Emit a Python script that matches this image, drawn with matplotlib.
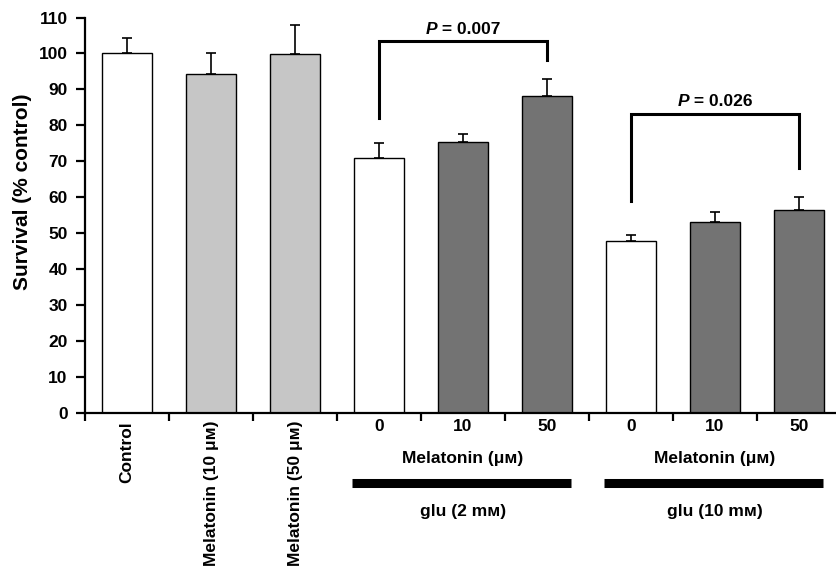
import matplotlib
matplotlib.use("Agg")
import matplotlib.pyplot as plt
import matplotlib.transforms as mtransforms
from matplotlib.offsetbox import TextArea, HPacker, AnnotationBbox

plt.rcParams['font.family'] = ['Liberation Sans', 'DejaVu Sans']
plt.rcParams['font.weight'] = 'bold'

# ---- data ----
values = [100.0, 94.2, 99.9, 70.8, 75.4, 88.1, 47.9, 53.1, 56.3]
errors = [4.2, 5.8, 7.9, 4.3, 2.1, 4.7, 1.7, 2.9, 3.7]
kinds = ['white', 'light', 'light', 'white', 'dark', 'dark', 'white', 'dark', 'dark']
rot_labels = ['Control', 'Melatonin (10 μᴍ)', 'Melatonin (50 μᴍ)']
dose_labels = ['0', '10', '50', '0', '10', '50']
group_unit = 'Melatonin (μᴍ)'
group_labels = ['glu (2 mᴍ)', 'glu (10 mᴍ)']
yticks = list(range(0, 111, 10))
p_texts = ['0.007', '0.026']
# bracket: (left bar, right bar, top, left-leg bottom, right-leg bottom, text y)
brackets = [(3, 5, 103.5, 82.0, 98.1, 106.7), (6, 8, 83.2, 59.0, 68.1, 86.5)]

colors = {'white': '#ffffff', 'light': '#c6c6c6', 'dark': '#737373'}
FS = 12.5

W, H = 837, 568
fig = plt.figure(figsize=(W / 100, H / 100), dpi=100)
ax = fig.add_axes([85 / W, (H - 412.7) / H, 752 / W, 395.2 / H])

x = list(range(len(values)))
ax.bar(x, values, width=0.6, color=[colors[k] for k in kinds],
       edgecolor='black', linewidth=1.0, zorder=2)
ax.errorbar(x, values, yerr=[[0] * len(errors), errors], fmt='none',
            ecolor='black', elinewidth=1.2, capsize=3.5, capthick=1.2, zorder=1)

ax.set_xlim(-0.5, 8.452)
ax.set_ylim(0, 110)
ax.set_yticks(yticks)
ax.set_yticklabels([str(t) for t in yticks], fontsize=FS, fontweight='bold')
ax.set_xticks([i - 0.5 for i in range(len(values))])
ax.set_xticklabels([])
for s in ['top', 'right']:
    ax.spines[s].set_visible(False)
for s in ['left', 'bottom']:
    ax.spines[s].set_linewidth(1.6)
ax.tick_params(axis='y', direction='out', length=6.5, width=1.6, pad=6)
ax.tick_params(axis='x', direction='out', length=6, width=1.6)

ax.set_ylabel('Survival (% control)', fontsize=15, fontweight='bold')
ax.yaxis.set_label_coords(-0.0705, 0.56)

trans = mtransforms.blended_transform_factory(ax.transData, ax.transAxes)

def fy(ypix):
    return (412.7 - ypix) / 395.2

for i, lab in enumerate(rot_labels):
    ax.text(i, fy(421), lab, rotation=90, ha='center', va='top', fontsize=FS,
            fontweight='bold', transform=trans, clip_on=False)

for j, lab in enumerate(dose_labels):
    ax.text(3 + j, fy(426.7), lab, ha='center', va='center', fontsize=FS,
            fontweight='bold', transform=trans, clip_on=False)

for g, glab in enumerate(group_labels):
    first = 3 + 3 * g
    last = first + 2
    mid = (first + last) / 2
    ax.text(mid, fy(458), group_unit, ha='center', va='center', fontsize=FS,
            fontweight='bold', transform=trans, clip_on=False)
    ax.plot([first - 0.32, last + 0.29], [fy(482.7)] * 2, color='black',
            linewidth=6.5, solid_capstyle='butt', transform=trans, clip_on=False)
    ax.text(mid, fy(511.7), glab, ha='center', va='center', fontsize=FS,
            fontweight='bold', transform=trans, clip_on=False)

for (l, r, top, lb, rb, ty), pt in zip(brackets, p_texts):
    ax.plot([l, l, r, r], [lb, top, top, rb], color='black', linewidth=2.2,
            solid_joinstyle='miter', zorder=3, clip_on=False)
    t1 = TextArea('P', textprops=dict(fontsize=FS, fontweight='bold', fontstyle='italic'))
    t2 = TextArea(' = ' + pt, textprops=dict(fontsize=FS, fontweight='bold'))
    box = HPacker(children=[t1, t2], align='baseline', pad=0, sep=0)
    ab = AnnotationBbox(box, ((l + r) / 2, ty), frameon=False, box_alignment=(0.5, 0.5),
                        annotation_clip=False)
    ax.add_artist(ab)

fig.savefig('out.png', dpi=100)
